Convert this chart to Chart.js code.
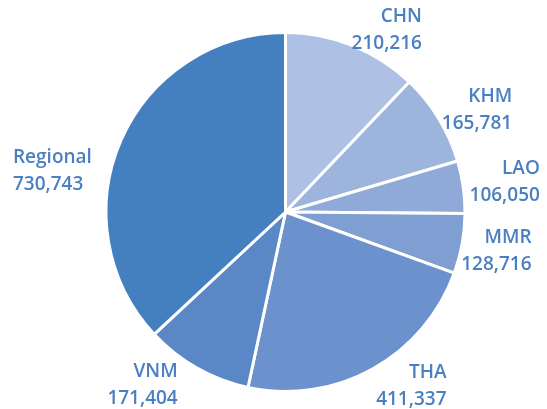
<!DOCTYPE html>
<html>
<head>
<meta charset="utf-8">
<script src="https://cdn.jsdelivr.net/npm/chart.js@4"></script>
<style>
    html, body { margin: 0; padding: 0; background: #ffffff; }
    #wrap { width: 547px; height: 409px; }
</style>
</head>
<body>
<div id="wrap"><canvas id="pieChart" width="547" height="409"></canvas></div>
<script>
// data
var countries = ['CHN', 'KHM', 'LAO', 'MMR', 'THA', 'VNM', 'Regional'];
var amounts = [210216, 165781, 106050, 128716, 411337, 171404, 730743];
// slice sizes as drawn (percent, measured from the arcs - they do not follow the printed numbers exactly)
var sliceShares = [12.1, 8.3, 4.7, 5.4, 22.8, 9.7, 36.9];

// slice colours, light to dark
var sliceColors = ['#aec0e4', '#9db4dd', '#8faad8', '#7f9fd3', '#6c92cd', '#5a88c7', '#4480c0'];

// label placement: text align + nudge from the point just outside each slice
var labelAlign = ['right', 'right', 'right', 'right', 'right', 'right', 'left'];
var labelNudge = [[56, 11], [42, 3], [40, -8], [33, -7], [56, -23], [-1, -23], [-74, 37]];

function fmt(n) {
    return n.toString().replace(/\B(?=(\d{3})+(?!\d))/g, ',');
}

var outsideLabels = {
    id: 'outsideLabels',
    afterDraw: function (chart) {
        var ctx = chart.ctx;
        var meta = chart.getDatasetMeta(0);
        ctx.save();
        ctx.fillStyle = '#4a7fc1';
        ctx.font = '600 19px "Open Sans", sans-serif';
        ctx.textBaseline = 'alphabetic';
        meta.data.forEach(function (arc, i) {
            var mid = (arc.startAngle + arc.endAngle) / 2;
            var r = arc.outerRadius + 37;
            var x = arc.x + Math.cos(mid) * r + labelNudge[i][0];
            var y = arc.y + Math.sin(mid) * r + labelNudge[i][1];
            ctx.textAlign = labelAlign[i];
            ctx.fillText(countries[i], x, y);
            ctx.fillText(fmt(amounts[i]), x, y + 27);
        });
        ctx.restore();
    }
};

var ctxPie = document.getElementById('pieChart').getContext('2d');
var pieChart = new Chart(ctxPie, {
    type: 'pie',
    data: {
        labels: countries,
        datasets: [{
            data: sliceShares,
            backgroundColor: sliceColors,
            borderColor: '#ffffff',
            borderWidth: 3
        }]
    },
    options: {
        responsive: false,
        maintainAspectRatio: false,
        animation: false,
        layout: {
            padding: { left: 104, right: 80, top: 31, bottom: 16 }
        },
        plugins: {
            legend: { display: false },
            tooltip: { enabled: false }
        }
    },
    plugins: [outsideLabels]
});
</script>
</body>
</html>
